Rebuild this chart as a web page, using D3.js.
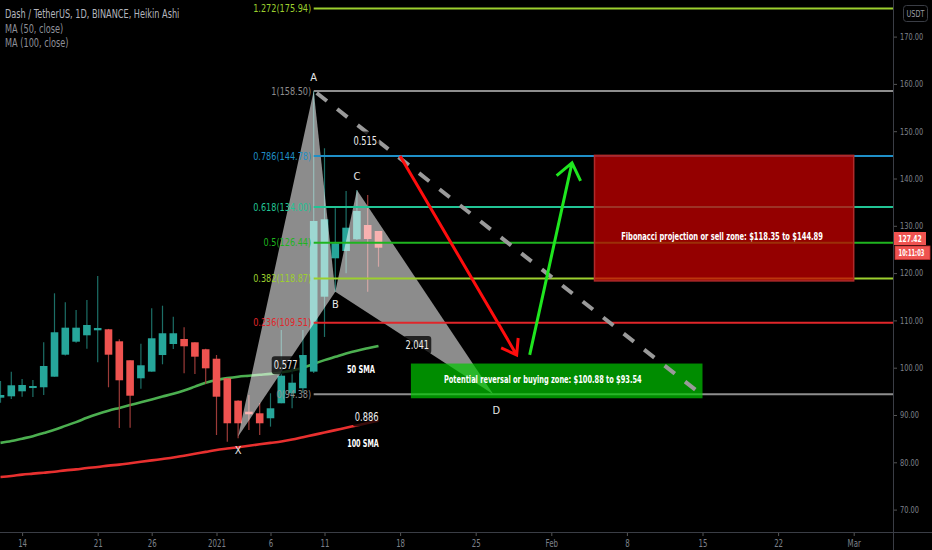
<!DOCTYPE html>
<html><head><meta charset="utf-8">
<script src="https://cdn.jsdelivr.net/npm/d3@7"></script>
<style>
html,body{margin:0;padding:0;background:#000;}
svg{display:block;}
text{font-family:"Liberation Sans Narrow","DejaVu Sans Condensed","Roboto Condensed",sans-serif;}
</style></head><body><svg id="c" width="932" height="550"></svg>
<script>
// ---------- data ----------
const candleDates = ["2020-12-12","2020-12-13","2020-12-14","2020-12-15","2020-12-16","2020-12-17","2020-12-18","2020-12-19","2020-12-20","2020-12-21","2020-12-22","2020-12-23","2020-12-24","2020-12-25","2020-12-26","2020-12-27","2020-12-28","2020-12-29","2020-12-30","2020-12-31","2021-01-01","2021-01-02","2021-01-03","2021-01-04","2021-01-05","2021-01-06","2021-01-07","2021-01-08","2021-01-09","2021-01-10","2021-01-11","2021-01-12","2021-01-13","2021-01-14","2021-01-15","2021-01-16"];
const opens  = [93.66,93.95,95.01,95.70,95.86,98.10,102.75,105.50,106.85,107.91,108.12,105.58,101.57,97.76,99.17,102.68,105.01,106.07,105.37,103.90,101.90,97.76,93.03,90.70,90.36,89.31,92.48,94.59,95.65,99.17,115.01,123.13,124.67,127.15,130.17,128.90];
const highs  = [97.19,99.17,97.61,97.40,105.37,115.73,113.83,112.20,114.31,119.39,108.20,106.00,101.60,105.07,112.56,113.11,110.78,108.54,105.40,104.00,102.68,97.80,93.10,94.23,92.55,94.59,107.97,100.21,107.97,158.50,146.39,133.70,137.36,137.57,136.51,128.90];
const lows   = [92.60,93.38,93.87,93.80,94.23,98.10,102.60,105.29,104.02,101.14,95.86,87.25,87.32,95.56,99.17,100.72,103.96,98.82,98.67,96.56,85.77,84.36,85.08,86.83,85.77,87.54,92.48,91.42,94.65,98.90,106.50,116.07,119.96,127.00,116.07,121.35];
const closes = [94.23,96.28,96.34,96.13,100.36,107.49,108.46,108.46,109.03,108.40,102.75,97.34,94.08,100.51,106.22,107.28,107.28,104.53,102.33,99.87,93.87,88.25,88.25,90.15,88.25,91.42,98.31,96.83,102.68,131.02,131.38,126.30,129.60,133.13,127.21,125.37];
const ma50   = [84.1,84.5,85.0,85.5,86.2,86.9,87.7,88.5,89.4,90.2,90.9,91.5,92.1,92.7,93.3,93.9,94.5,95.2,96.0,96.8,97.4,97.8,98.1,98.3,98.5,98.7,99.0,99.4,100.0,100.8,101.6,102.3,103.0,103.6,104.1,104.6];
const ma100  = [76.9,77.1,77.4,77.6,77.8,78.0,78.3,78.5,78.8,79.0,79.3,79.5,79.8,80.1,80.4,80.7,81.0,81.4,81.8,82.2,82.6,82.9,83.2,83.5,83.8,84.1,84.4,84.8,85.3,85.8,86.3,86.8,87.3,87.8,88.3,88.8];

const fibRatios = ["1.272","1","0.786","0.618","0.5","0.382","0.236","0"];
const fibPrices = [175.94,158.50,144.78,134.00,126.44,118.87,109.51,94.38];

const patternNames  = ["X","A","B","C","D"];
const patternDates  = ["2021-01-03T00:00Z","2021-01-10T00:00Z","2021-01-12T00:00Z","2021-01-14T00:00Z","2021-01-26T15:00Z"];
const patternPrices = [85.44,158.50,116.07,137.57,94.38];
const ratioTexts = ["0.577","0.515","2.041","0.886"];
const ratioPairs = [["X","B"],["A","C"],["B","D"],["X","D"]];

const yTicks = [70,80,90,100,110,120,130,140,150,160,170];
const xTickDates  = ["2020-12-14","2020-12-21","2020-12-26","2021-01-01","2021-01-06","2021-01-11","2021-01-18","2021-01-25","2021-02-01","2021-02-08","2021-02-15","2021-02-22","2021-03-01"];
const xTickLabels = ["14","21","26","2021","6","11","18","25","Feb","8","15","22","Mar"];

const sellZone = {from:"2021-02-05", to:"2021-03-01", low:118.35, high:144.89, text:"Fibonacci projection or sell zone: $118.35 to $144.89"};
const buyZone  = {from:"2021-01-19", to:"2021-02-15", low:93.54, high:100.88, text:"Potential reversal or buying zone: $100.88 to $93.54"};
const trendDates  = ["2021-01-10T00:00Z","2021-02-14T14:00Z"];
const trendPrices = [158.5, 94.9];
const redArrowDates  = ["2021-01-18T00:00Z","2021-01-28T19:00Z"];
const redArrowPrices = [144.78, 102.7];
const greenArrowDates  = ["2021-01-30T00:00Z","2021-02-02T22:00Z"];
const greenArrowPrices = [102.7, 143.3];
const lastPrice = 127.42, countdown = "10:11:03";

// ---------- setup ----------
const W=932,H=550, plotR=893, axisY=532;
const svg=d3.select("#c");
svg.append("rect").attr("width",W).attr("height",H).attr("fill","#000");
const pd = s => new Date(s.length===10 ? s+"T00:00Z" : s);
const x=d3.scaleUtc().domain([pd("2020-12-12"),pd("2021-03-01")]).range([0.5,853.7]);
const y=d3.scaleLinear().domain([70,170]).range([509.6,36.6]);
function cond(sel,f){ sel.each(function(){ const w=this.getComputedTextLength(); this.setAttribute("textLength",(w*f).toFixed(1)); this.setAttribute("lengthAdjust","spacingAndGlyphs"); }); return sel; }

const plot=svg.append("g");
const fibColors={"1.272":"#9ccf2e","1":"#8e8e8e","0.786":"#1f8fc7","0.618":"#22c495","0.5":"#1fb41f","0.382":"#9ccf2e","0.236":"#e0262a","0":"#8e8e8e"};

// MAs
const line=d3.line().x((d,i)=>x(pd(candleDates[i]))).y(d=>y(d)).curve(d3.curveMonotoneX);
plot.append("path").attr("d",line(ma50)).attr("fill","none").attr("stroke","#4caf50").attr("stroke-width",2.6);
plot.append("path").attr("d",line(ma100)).attr("fill","none").attr("stroke","#e8302f").attr("stroke-width",2.6);

// candles
const bw=7.6;
candleDates.forEach((d,i)=>{
  const up=closes[i]>=opens[i];
  const cx=x(pd(d));
  plot.append("line").attr("x1",cx).attr("x2",cx).attr("y1",y(highs[i])).attr("y2",y(lows[i]))
    .attr("stroke",up?"#1c6e66":"#9c3b38").attr("stroke-width",1.2);
  const t=y(Math.max(opens[i],closes[i])), b=y(Math.min(opens[i],closes[i]));
  plot.append("rect").attr("x",cx-bw/2).attr("y",t).attr("width",bw).attr("height",Math.max(1.5,b-t))
    .attr("fill",up?"#26a69a":"#ef5350");
});

// pattern triangles
const P={}; patternNames.forEach((n,i)=>P[n]=[x(pd(patternDates[i])),y(patternPrices[i])]);
[["X","A","B"],["B","C","D"]].forEach(tri=>{
  plot.append("path").attr("d","M"+tri.map(n=>P[n].join(",")).join("L")+"Z")
    .attr("fill","#ffffff").attr("fill-opacity",0.55);
});

// fib lines
const fibX0=x(pd("2021-01-10"));
fibPrices.forEach((p,i)=>{
  const c=fibColors[fibRatios[i]];
  plot.append("line").attr("x1",fibX0).attr("x2",plotR).attr("y1",y(p)).attr("y2",y(p)).attr("stroke",c).attr("stroke-width",2);
  cond(plot.append("text").attr("x",fibX0-2.5).attr("y",y(p)).attr("dy","0.35em").attr("text-anchor","end")
    .attr("font-size",10.5).attr("fill",c).text(fibRatios[i]+"("+p.toFixed(2)+")"),0.86);
});

// zones
function zone(z,fill,op,stroke){
  plot.append("rect").attr("x",x(pd(z.from))).attr("y",y(z.high)).attr("width",x(pd(z.to))-x(pd(z.from)))
    .attr("height",y(z.low)-y(z.high)).attr("fill",fill).attr("fill-opacity",op)
    .attr("stroke",stroke||"none").attr("stroke-width",stroke?1.5:0);
}
zone(sellZone,"#c80000",0.74,"#b02a2a");
zone(buyZone,"#00c800",0.70,null);
cond(plot.append("text").attr("x",(x(pd(sellZone.from))+x(pd(sellZone.to)))/2-2).attr("y",y(sellZone.low)-41)
  .attr("text-anchor","middle").attr("font-size",11).attr("font-weight","bold").attr("fill","#fff").text(sellZone.text),0.68);
cond(plot.append("text").attr("x",x(pd(buyZone.from))+33).attr("y",(y(buyZone.low)+y(buyZone.high))/2-2).attr("dy","0.35em")
  .attr("text-anchor","start").attr("font-size",11).attr("font-weight","bold").attr("fill","#fff").text(buyZone.text),0.67);

// dashed trend line
plot.append("line").attr("x1",x(pd(trendDates[0]))+3).attr("y1",y(trendPrices[0])+2)
  .attr("x2",x(pd(trendDates[1]))).attr("y2",y(trendPrices[1]))
  .attr("stroke","#9a9a9a").attr("stroke-width",4).attr("stroke-dasharray","13,13");

// arrows
function arrow(ds,ps,color,len,ang){
  const x1=x(pd(ds[0])),y1=y(ps[0]),x2=x(pd(ds[1])),y2=y(ps[1]);
  const a=Math.atan2(y1-y2,x1-x2);
  plot.append("path").attr("d",`M${x1},${y1}L${x2},${y2}M${x2+len*Math.cos(a+ang)},${y2+len*Math.sin(a+ang)}L${x2},${y2}L${x2+len*Math.cos(a-ang)},${y2+len*Math.sin(a-ang)}`)
    .attr("fill","none").attr("stroke",color).attr("stroke-width",3).attr("stroke-linejoin","miter");
}
arrow(redArrowDates,redArrowPrices,"#ff0d0d",17,0.62);
arrow(greenArrowDates,greenArrowPrices,"#1fe61f",20,0.66);

// pattern point labels
const lblOff={X:14,A:-14,B:12,C:-14,D:16};
patternNames.forEach(n=>{
  plot.append("text").attr("x",P[n][0]+(n==="D"?3:0)).attr("y",P[n][1]+lblOff[n]).attr("dy","0.35em").attr("text-anchor","middle")
    .attr("font-size",11).attr("fill","#e6e6e6").text(n);
});
// ratio labels
const ratioShift=[[-1,1],[30,0],[3,2],[1,2]];
ratioTexts.forEach((t,i)=>{
  const a=P[ratioPairs[i][0]],b=P[ratioPairs[i][1]];
  const cx=(a[0]+b[0])/2+ratioShift[i][0], cy=(a[1]+b[1])/2+ratioShift[i][1];
  plot.append("rect").attr("x",cx-14).attr("y",cy-9).attr("width",28).attr("height",18).attr("rx",3)
    .attr("fill","#000").attr("fill-opacity",0.75);
  cond(plot.append("text").attr("x",cx).attr("y",cy).attr("dy","0.35em").attr("text-anchor","middle")
    .attr("font-size",11.5).attr("fill","#eeeeee").text(t),0.8);
});
// SMA labels
cond(plot.append("text").attr("x",361).attr("y",y(ma50[35])+27).attr("text-anchor","middle").attr("font-size",10.5)
  .attr("font-weight","bold").attr("fill","#fff").text("50 SMA"),0.7);
cond(plot.append("text").attr("x",363).attr("y",y(ma100[35])+26).attr("text-anchor","middle").attr("font-size",10.5)
  .attr("font-weight","bold").attr("fill","#fff").text("100 SMA"),0.68);

// ---------- axes ----------
svg.append("rect").attr("x",plotR).attr("y",0).attr("width",W-plotR).attr("height",H).attr("fill","#000");
svg.append("rect").attr("x",0).attr("y",axisY).attr("width",W).attr("height",H-axisY).attr("fill","#000");
const ya=svg.append("g").attr("transform",`translate(${plotR},0)`)
  .call(d3.axisRight(y).tickValues(yTicks).tickFormat(d=>d.toFixed(2)).tickSize(4).tickPadding(3));
ya.select(".domain").remove();
ya.selectAll(".tick line").attr("stroke","#555");
cond(ya.selectAll("text").attr("fill","#7d808a").attr("font-size",9)
  .attr("font-family",'"Liberation Sans Narrow","DejaVu Sans Condensed",sans-serif'),0.82);
const xa=svg.append("g").attr("transform",`translate(0,${axisY})`)
  .call(d3.axisBottom(x).tickValues(xTickDates.map(pd)).tickFormat((d,i)=>xTickLabels[i]).tickSize(4).tickPadding(4));
xa.select(".domain").remove();
xa.selectAll(".tick line").attr("stroke","#555");
cond(xa.selectAll("text").attr("fill","#7d808a").attr("font-size",10)
  .attr("font-family",'"Liberation Sans Narrow","DejaVu Sans Condensed",sans-serif'),0.78);
svg.append("line").attr("x1",plotR+0.5).attr("x2",plotR+0.5).attr("y1",0).attr("y2",H).attr("stroke","#3a3d45");
svg.append("line").attr("x1",0).attr("x2",W).attr("y1",axisY+0.5).attr("y2",axisY+0.5).attr("stroke","#3a3d45");

// price label
const py=y(lastPrice)+0.5;
svg.append("rect").attr("x",plotR+1).attr("y",py-6.5).attr("width",32).attr("height",13).attr("fill","#ef5350");
cond(svg.append("text").attr("x",plotR+17).attr("y",py+0.5).attr("dy","0.35em").attr("text-anchor","middle").attr("font-size",8.5)
  .attr("font-weight","bold").attr("fill","#fff").text(lastPrice.toFixed(2)),0.8);
svg.append("rect").attr("x",plotR+2).attr("y",py+7.5).attr("width",35).attr("height",13.5).attr("fill","#ef5350")
  .attr("stroke","#c03030").attr("stroke-width",0.8);
cond(svg.append("text").attr("x",plotR+18.5).attr("y",py+14.4).attr("dy","0.35em").attr("text-anchor","middle").attr("font-size",8)
  .attr("font-weight","bold").attr("fill","#fff").text(countdown),0.72);

// USDT box
svg.append("rect").attr("x",903.5).attr("y",5.5).attr("width",24).attr("height",16).attr("rx",3)
  .attr("fill","none").attr("stroke","#3a3d45");
cond(svg.append("text").attr("x",915.5).attr("y",13.5).attr("dy","0.35em").attr("text-anchor","middle").attr("font-size",9)
  .attr("fill","#9a9ca4").text("USDT"),0.8);

// header legend
cond(svg.append("text").attr("x",5).attr("y",18).attr("font-size",11.5).attr("fill","#b3b5bd").text("Dash / TetherUS, 1D, BINANCE, Heikin Ashi"),0.79);
cond(svg.append("text").attr("x",5).attr("y",33).attr("font-size",11.5).attr("fill","#8e9099").text("MA (50, close)"),0.79);
cond(svg.append("text").attr("x",5).attr("y",47).attr("font-size",11.5).attr("fill","#8e9099").text("MA (100, close)"),0.79);
</script></body></html>
